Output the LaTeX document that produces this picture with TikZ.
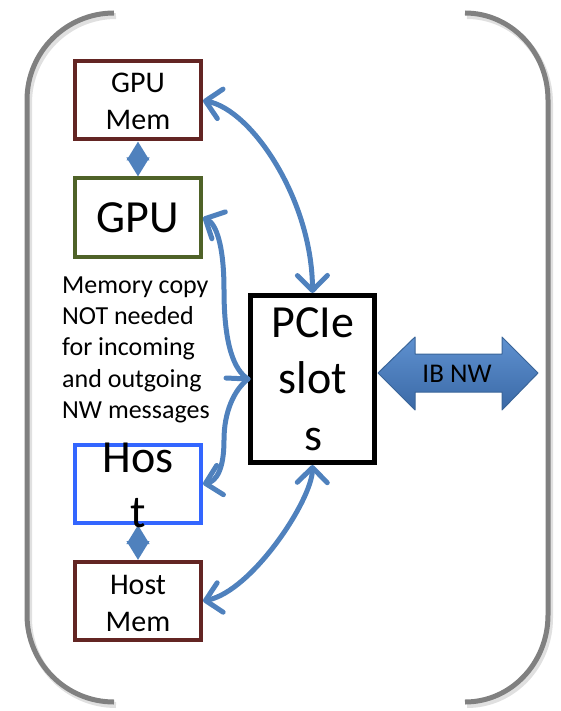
\documentclass[tikz,border=0pt]{standalone}
\usepackage{fontspec}
\setmainfont{Carlito}
\usetikzlibrary{arrows.meta}
\definecolor{arrowblue}{HTML}{4F81BD}
\definecolor{memred}{HTML}{632523}
\definecolor{gpugreen}{HTML}{4F6228}
\definecolor{hostblue}{HTML}{3366FF}
\definecolor{bracketgray}{HTML}{808080}
\definecolor{ibtop}{HTML}{5F91D0}
\definecolor{ibbot}{HTML}{3A69A6}
\definecolor{ibedge}{HTML}{3A6599}
\begin{document}
\begin{tikzpicture}[x=1pt,y=-1pt,
  box/.style={draw, line width=4pt, minimum width=126pt, minimum height=78pt, inner sep=0pt},
  membox/.style={box, draw=memred},
  bigtxt/.style={font=\fontsize{46}{56}\selectfont, anchor=base, inner sep=0pt},
  memtxt/.style={font=\fontsize{30}{37}\selectfont, anchor=base, inner sep=0pt},
  notetxt/.style={font=\fontsize{26}{31.5}\selectfont, anchor=base west, inner sep=0pt},
  link/.style={draw=arrowblue, line width=5pt, line cap=round, line join=round,
    >={Straight Barb[length=15pt,width=30pt,round]}},
  pair/.style={draw=arrowblue, line width=4pt,
    {Triangle[length=19pt,width=22pt]}-{Triangle[length=19pt,width=22pt]}},
  bracket/.style={draw=bracketgray, line width=5pt},
  bracketshadow/.style={draw=black, opacity=0.12, line width=6pt}
]
\useasboundingbox (0,0) rectangle (561,711);

% enclosing brackets (soft shadow first)
\begin{scope}[shift={(2,3)}]
  \draw[bracketshadow] (114,13) .. controls (66,13) and (27,52) .. (27,100) -- (27,615)
        .. controls (27,663) and (66,702) .. (114,702);
  \draw[bracketshadow] (465,13) .. controls (511,13) and (548,52) .. (548,100) -- (548,615)
        .. controls (548,663) and (511,702) .. (465,702);
\end{scope}
\draw[bracket] (114,13) .. controls (66,13) and (27,52) .. (27,100) -- (27,615)
      .. controls (27,663) and (66,702) .. (114,702);
\draw[bracket] (465,13) .. controls (511,13) and (548,52) .. (548,100) -- (548,615)
      .. controls (548,663) and (511,702) .. (465,702);

% boxes
\node[membox] (gpumem) at (138,100.5) {};
\node[box, draw=gpugreen] (gpu) at (138,217.5) {};
\node[box, draw=hostblue] (host) at (138,484) {};
\node[membox] (hostmem) at (138,601) {};
\node[draw, line width=5pt, minimum width=124pt, minimum height=167pt, inner sep=0pt] (pcie) at (312.5,379) {};

% connectors
\draw[pair] (gpumem.south) -- (gpu.north);
\draw[pair] (host.south) -- (hostmem.north);
\draw[link,<->] (gpumem.east) .. controls (252,110) and (312,200) .. (pcie.north);
\draw[link,<->] (hostmem.east) .. controls (252,591) and (312,500) .. (pcie.south);
\draw[link,<->] (gpu.east) .. controls (216,224) and (224,245) .. (224,290)
      .. controls (224,345) and (234,370) .. (pcie.west)
      .. controls (234,390) and (224,412) .. (224,440)
      .. controls (224,470) and (216,481) .. (host.east);
\coordinate (stub) at (226,378);
\draw[link] (stub) -- (pcie.west);

% network link
\shade[top color=ibtop, bottom color=ibbot, draw=ibedge, line width=1pt, line join=round]
  (378,373) -- (415,337) -- (415,354) -- (502,354) -- (502,337) -- (538,373)
  -- (502,410) -- (502,392) -- (415,392) -- (415,410) -- cycle;
\node[font=\fontsize{27}{32}\selectfont, anchor=base, inner sep=0pt] (ibnw) at (457,382) {IB NW};

% labels
\node[memtxt] (gpumemA) at (138,93) {GPU};
\node[memtxt] (gpumemB) at (138,130) {Mem};
\node[bigtxt] (gputxt) at (138,233) {GPU};
\node[bigtxt] (hostA) at (138,472) {Hos};
\node[bigtxt] (hostB) at (138,527) {t};
\node[memtxt] (hostmemA) at (138,594) {Host};
\node[memtxt] (hostmemB) at (138,631) {Mem};
\node[bigtxt] (pcieA) at (313,337) {PCIe};
\node[bigtxt] (pcieB) at (313,393) {slot};
\node[bigtxt] (pcieC) at (313,450) {s};

\node[notetxt] (note1) at (62,293) {Memory copy};
\node[notetxt] (note2) at (62,324) {NOT needed};
\node[notetxt] (note3) at (62,355.5) {for incoming};
\node[notetxt] (note4) at (62,387) {and outgoing};
\node[notetxt] (note5) at (62,418) {NW messages};
\end{tikzpicture}
\end{document}
